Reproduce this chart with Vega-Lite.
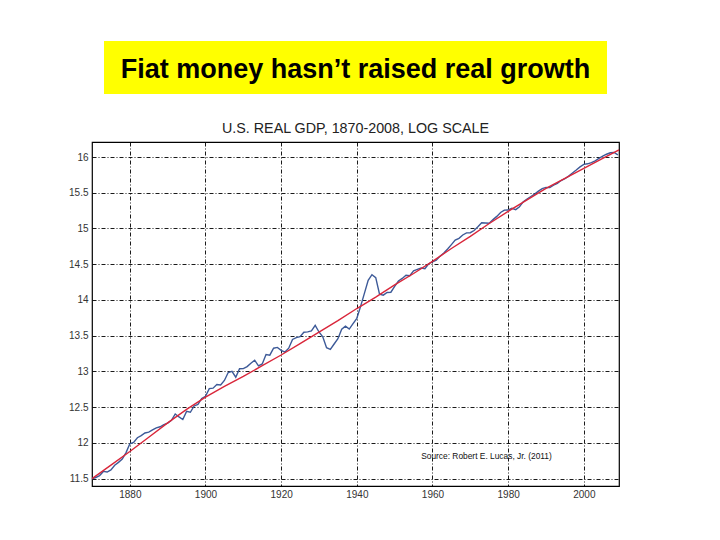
{
  "$schema": "https://vega.github.io/schema/vega-lite/v6.json",
  "background": "white",
  "padding": {"left": 67, "top": 41, "right": 10, "bottom": 10},
  "config": {
    "font": "Liberation Sans",
    "view": {"stroke": "#000000", "strokeWidth": 1.2}
  },
  "datasets": {
    "gdp": [
      {"year": 1870, "value": 11.497}, {"year": 1871, "value": 11.516}, {"year": 1872, "value": 11.543}, {"year": 1873, "value": 11.601}, {"year": 1874, "value": 11.593},
      {"year": 1875, "value": 11.623}, {"year": 1876, "value": 11.687}, {"year": 1877, "value": 11.728}, {"year": 1878, "value": 11.775}, {"year": 1879, "value": 11.864},
      {"year": 1880, "value": 11.987}, {"year": 1881, "value": 12.008}, {"year": 1882, "value": 12.073}, {"year": 1883, "value": 12.101}, {"year": 1884, "value": 12.139},
      {"year": 1885, "value": 12.150}, {"year": 1886, "value": 12.181}, {"year": 1887, "value": 12.211}, {"year": 1888, "value": 12.226}, {"year": 1889, "value": 12.255},
      {"year": 1890, "value": 12.277}, {"year": 1891, "value": 12.315}, {"year": 1892, "value": 12.405}, {"year": 1893, "value": 12.363}, {"year": 1894, "value": 12.328},
      {"year": 1895, "value": 12.441}, {"year": 1896, "value": 12.429}, {"year": 1897, "value": 12.517}, {"year": 1898, "value": 12.539}, {"year": 1899, "value": 12.622},
      {"year": 1900, "value": 12.652}, {"year": 1901, "value": 12.759}, {"year": 1902, "value": 12.766}, {"year": 1903, "value": 12.816}, {"year": 1904, "value": 12.810},
      {"year": 1905, "value": 12.874}, {"year": 1906, "value": 12.985}, {"year": 1907, "value": 13.001}, {"year": 1908, "value": 12.919}, {"year": 1909, "value": 13.037},
      {"year": 1910, "value": 13.039}, {"year": 1911, "value": 13.067}, {"year": 1912, "value": 13.114}, {"year": 1913, "value": 13.157}, {"year": 1914, "value": 13.077},
      {"year": 1915, "value": 13.104}, {"year": 1916, "value": 13.236}, {"year": 1917, "value": 13.227}, {"year": 1918, "value": 13.325}, {"year": 1919, "value": 13.336},
      {"year": 1920, "value": 13.295}, {"year": 1921, "value": 13.271}, {"year": 1922, "value": 13.325}, {"year": 1923, "value": 13.447}, {"year": 1924, "value": 13.474},
      {"year": 1925, "value": 13.487}, {"year": 1926, "value": 13.548}, {"year": 1927, "value": 13.554}, {"year": 1928, "value": 13.567}, {"year": 1929, "value": 13.645},
      {"year": 1930, "value": 13.552}, {"year": 1931, "value": 13.485}, {"year": 1932, "value": 13.331}, {"year": 1933, "value": 13.309}, {"year": 1934, "value": 13.384},
      {"year": 1935, "value": 13.457}, {"year": 1936, "value": 13.590}, {"year": 1937, "value": 13.632}, {"year": 1938, "value": 13.592}, {"year": 1939, "value": 13.668},
      {"year": 1940, "value": 13.743}, {"year": 1941, "value": 13.910}, {"year": 1942, "value": 14.092}, {"year": 1943, "value": 14.274}, {"year": 1944, "value": 14.354},
      {"year": 1945, "value": 14.313}, {"year": 1946, "value": 14.082}, {"year": 1947, "value": 14.067}, {"year": 1948, "value": 14.104}, {"year": 1949, "value": 14.108},
      {"year": 1950, "value": 14.191}, {"year": 1951, "value": 14.265}, {"year": 1952, "value": 14.301}, {"year": 1953, "value": 14.346}, {"year": 1954, "value": 14.340},
      {"year": 1955, "value": 14.408}, {"year": 1956, "value": 14.427}, {"year": 1957, "value": 14.446}, {"year": 1958, "value": 14.436}, {"year": 1959, "value": 14.507},
      {"year": 1960, "value": 14.532}, {"year": 1961, "value": 14.555}, {"year": 1962, "value": 14.613}, {"year": 1963, "value": 14.656}, {"year": 1964, "value": 14.712},
      {"year": 1965, "value": 14.774}, {"year": 1966, "value": 14.837}, {"year": 1967, "value": 14.862}, {"year": 1968, "value": 14.909}, {"year": 1969, "value": 14.939},
      {"year": 1970, "value": 14.941}, {"year": 1971, "value": 14.972}, {"year": 1972, "value": 15.023}, {"year": 1973, "value": 15.079}, {"year": 1974, "value": 15.076},
      {"year": 1975, "value": 15.073}, {"year": 1976, "value": 15.124}, {"year": 1977, "value": 15.169}, {"year": 1978, "value": 15.224}, {"year": 1979, "value": 15.257},
      {"year": 1980, "value": 15.258}, {"year": 1981, "value": 15.283}, {"year": 1982, "value": 15.264}, {"year": 1983, "value": 15.305}, {"year": 1984, "value": 15.375},
      {"year": 1985, "value": 15.413}, {"year": 1986, "value": 15.447}, {"year": 1987, "value": 15.481}, {"year": 1988, "value": 15.523}, {"year": 1989, "value": 15.557},
      {"year": 1990, "value": 15.574}, {"year": 1991, "value": 15.572}, {"year": 1992, "value": 15.605}, {"year": 1993, "value": 15.631}, {"year": 1994, "value": 15.671},
      {"year": 1995, "value": 15.696}, {"year": 1996, "value": 15.733}, {"year": 1997, "value": 15.777}, {"year": 1998, "value": 15.818}, {"year": 1999, "value": 15.862},
      {"year": 2000, "value": 15.897}, {"year": 2001, "value": 15.905}, {"year": 2002, "value": 15.921}, {"year": 2003, "value": 15.946}, {"year": 2004, "value": 15.981},
      {"year": 2005, "value": 16.012}, {"year": 2006, "value": 16.039}, {"year": 2007, "value": 16.059}, {"year": 2008, "value": 16.065}, {"year": 2009, "value": 16.030}
    ],
    "trend": [
      {"year": 1870, "value": 11.50}, {"year": 1875, "value": 11.69}, {"year": 1880, "value": 11.88}, {"year": 1885, "value": 12.08},
      {"year": 1890, "value": 12.28}, {"year": 1895, "value": 12.47}, {"year": 1900, "value": 12.64}, {"year": 1905, "value": 12.79},
      {"year": 1910, "value": 12.93}, {"year": 1915, "value": 13.08}, {"year": 1920, "value": 13.23}, {"year": 1925, "value": 13.39},
      {"year": 1930, "value": 13.55}, {"year": 1935, "value": 13.71}, {"year": 1940, "value": 13.88}, {"year": 1945, "value": 14.04},
      {"year": 1950, "value": 14.21}, {"year": 1955, "value": 14.37}, {"year": 1960, "value": 14.54}, {"year": 1965, "value": 14.72},
      {"year": 1970, "value": 14.89}, {"year": 1975, "value": 15.07}, {"year": 1980, "value": 15.24}, {"year": 1985, "value": 15.40},
      {"year": 1990, "value": 15.56}, {"year": 1995, "value": 15.70}, {"year": 2000, "value": 15.84}, {"year": 2005, "value": 15.98},
      {"year": 2009.3, "value": 16.10}
    ],
    "note": [
      {"year": 1957, "value": 11.82, "label": "Source: Robert E. Lucas, Jr. (2011)"}
    ],
    "headline": [
      {"label": "Fiat money hasn’t raised real growth"}
    ]
  },
  "vconcat": [
    {
      "width": 503,
      "height": 53,
      "view": {"fill": "#FFFF00", "stroke": null},
      "data": {"name": "headline"},
      "mark": {"type": "text", "fontSize": 27, "fontWeight": "bold", "font": "Liberation Sans", "color": "#000000", "baseline": "middle", "align": "center", "dy": 2},
      "encoding": {"text": {"field": "label", "type": "nominal"}}
    },
    {
      "width": 527,
      "height": 344,
      "title": {"text": "U.S. REAL GDP, 1870-2008, LOG SCALE", "fontSize": 14.3, "fontWeight": "normal", "font": "Liberation Sans", "color": "#222222", "offset": 6, "anchor": "middle"},
      "layer": [
        {
          "data": {"name": "gdp"},
          "mark": {"type": "line", "color": "#3d5a98", "strokeWidth": 1.4, "clip": true},
          "encoding": {
            "x": {"field": "year", "type": "quantitative", "scale": {"domain": [1870, 2009.3], "nice": false, "zero": false},
                  "axis": {"values": [1880, 1900, 1920, 1940, 1960, 1980, 2000], "tickCount": 20, "labelOverlap": false, "format": "d", "title": null, "grid": true, "gridColor": "#000000", "gridDash": [4, 2, 1, 2], "gridWidth": 0.9, "domain": false, "ticks": false, "labelFontSize": 10, "labelColor": "#333333", "labelPadding": 3, "labelFont": "Liberation Sans"}},
            "y": {"field": "value", "type": "quantitative", "scale": {"domain": [11.397, 16.21], "nice": false, "zero": false},
                  "axis": {"values": [11.5, 12, 12.5, 13, 13.5, 14, 14.5, 15, 15.5, 16], "tickCount": 20, "labelOverlap": false, "format": "~g", "title": null, "grid": true, "gridColor": "#000000", "gridDash": [4, 2, 1, 2], "gridWidth": 0.9, "domain": false, "ticks": false, "labelFontSize": 10, "labelColor": "#333333", "labelPadding": 4, "labelFont": "Liberation Sans"}}
          }
        },
        {
          "data": {"name": "trend"},
          "mark": {"type": "line", "color": "#d9263a", "strokeWidth": 1.4, "clip": true},
          "encoding": {
            "x": {"field": "year", "type": "quantitative"},
            "y": {"field": "value", "type": "quantitative"}
          }
        },
        {
          "data": {"name": "note"},
          "mark": {"type": "text", "fontSize": 8.4, "font": "Liberation Sans", "color": "#111111", "align": "left", "baseline": "middle"},
          "encoding": {
            "x": {"field": "year", "type": "quantitative"},
            "y": {"field": "value", "type": "quantitative"},
            "text": {"field": "label", "type": "nominal"}
          }
        }
      ]
    }
  ],
  "spacing": 48,
  "bounds": "flush",
  "center": true
}
